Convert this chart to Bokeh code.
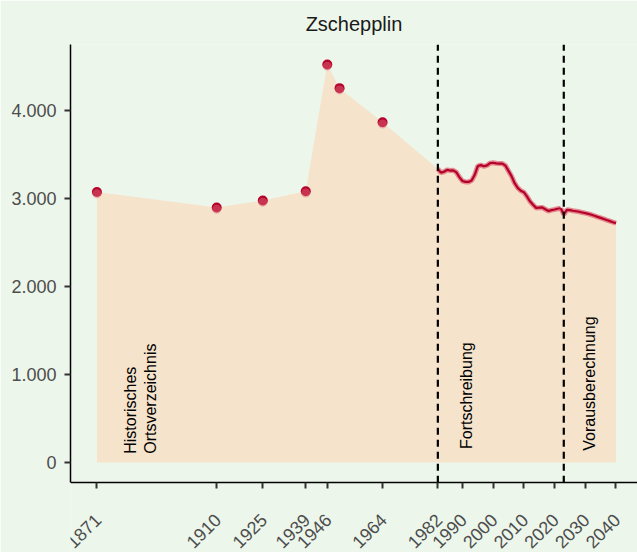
import math
from bokeh.plotting import figure
from bokeh.models import FixedTicker, ColumnDataSource
from bokeh.core.properties import value
from bokeh.embed import file_html
from bokeh.resources import INLINE

# --- data ---
title_text = "Zschepplin"

hist_years = [1871, 1910, 1925, 1939, 1946, 1950, 1964]
hist_vals = [3071, 2895, 2974, 3079, 4518, 4249, 3862]

fort_years = list(range(1982, 2023))
fort_vals = [3332, 3290, 3300, 3322, 3314, 3316, 3295, 3240, 3195, 3185,
             3185, 3200, 3265, 3365, 3375, 3362, 3372, 3398, 3402, 3396,
             3393, 3393, 3370, 3310, 3250, 3170, 3117, 3085, 3068, 3020,
             2965, 2925, 2890, 2893, 2895, 2875, 2855, 2865, 2872, 2880,
             2885]

proj_years = list(range(2022, 2041))
proj_vals = [2885, 2815, 2868, 2865, 2858, 2852, 2846, 2838, 2830, 2822,
             2812, 2800, 2788, 2777, 2765, 2752, 2740, 2728, 2717]

x_ticks = [1871, 1910, 1925, 1939, 1946, 1964, 1982, 1990, 2000, 2010,
           2020, 2030, 2040]
x_tick_labels = [str(t) for t in x_ticks]
y_ticks = [0, 1000, 2000, 3000, 4000]
y_tick_labels = ["0", "1.000", "2.000", "3.000", "4.000"]

phase_breaks = [1982, 2023]

label_texts = ["Historisches\nOrtsverzeichnis", "Fortschreibung", "Vorausberechnung"]
label_x = [1885.2, 1991.4, 2031.3]
label_y = [100, 154, 135]

# --- styling ---
BG = "#ecf6eb"
AREA = "#f5e3cc"
DARK = "#b5002a"
LIGHT = "#e0707c"
X_START, X_END = 1862.4, 2047.0
Y_START, Y_END = -1020, 4744
X_AXIS_Y = -228   # data level where the x axis sits

area_years = hist_years + fort_years + proj_years[1:]
area_vals = hist_vals + fort_vals + proj_vals[1:]

p = figure(width=637, height=552, output_backend="svg", toolbar_location=None,
           x_range=(X_START, X_END), y_range=(Y_START, Y_END),
           min_border_left=70, min_border_right=0, min_border_bottom=0,
           min_border_top=43)
p.background_fill_color = BG
p.border_fill_color = BG
p.outline_line_color = None
p.xgrid.grid_line_color = None
p.ygrid.grid_line_color = None

p.title.text = title_text
p.title.align = "center"
p.title.text_font = "Liberation Sans"
p.title.text_font_size = "20px"
p.title.text_font_style = "normal"
p.title.text_color = "#1a1a1a"
p.title.offset = 2
p.title.standoff = 20

p.varea(x=area_years, y1=[0] * len(area_years), y2=area_vals, fill_color=AREA)

for yrs, vals in ((fort_years, fort_vals), (proj_years, proj_vals)):
    p.line(yrs, vals, line_color=LIGHT, line_width=5, line_alpha=0.8)
    p.line(yrs, vals, line_color=DARK, line_width=2.2)

p.scatter(hist_years, hist_vals, size=10, fill_color=DARK, line_color=None)
p.scatter(hist_years, [v - 20 for v in hist_vals], size=9, fill_color=LIGHT,
          fill_alpha=0.45, line_color=None)

n = len(phase_breaks)
p.segment(x0=phase_breaks, y0=[X_AXIS_Y] * n, x1=phase_breaks, y1=[Y_END] * n,
          line_color="black", line_width=2.2, line_dash="7 5")

src = ColumnDataSource(dict(x=label_x, y=label_y, t=label_texts))
p.text(x="x", y="y", text="t", source=src, angle=math.pi / 2,
       text_align="left", text_baseline="middle",
       text_font=value("Liberation Sans"), text_font_size="16px",
       text_color="black", text_line_height=1.2)

for ax in (p.xaxis[0], p.yaxis[0]):
    ax.axis_line_color = "black"
    ax.axis_line_width = 1.5
    ax.major_tick_line_color = "#333333"
    ax.major_tick_line_width = 2
    ax.major_tick_out = 6
    ax.major_tick_in = 0
    ax.minor_tick_line_color = None
    ax.major_label_text_font = "Liberation Sans"
    ax.major_label_text_font_size = "18px"
    ax.major_label_text_color = "#4d4d4d"

xa = p.xaxis[0]
xa.ticker = FixedTicker(ticks=x_ticks)
xa.fixed_location = X_AXIS_Y
xa.major_label_overrides = {t: "" for t in x_ticks}

ya = p.yaxis[0]
ya.ticker = FixedTicker(ticks=y_ticks)
ya.bounds = (X_AXIS_Y, Y_END)
ya.major_label_overrides = {t: l for t, l in zip(y_ticks, y_tick_labels)}
ya.major_label_standoff = 8

# rotated x tick labels under the axis, right end at the tick
tsrc = ColumnDataSource(dict(x=x_ticks, y=[X_AXIS_Y] * len(x_ticks), t=x_tick_labels))
p.text(x="x", y="y", text="t", source=tsrc, angle=math.pi / 4,
       x_offset=1, y_offset=34, text_align="right", text_baseline="middle",
       text_font=value("Liberation Sans"), text_font_size="18px",
       text_color="#4d4d4d")

html = file_html(p, INLINE)
html = html.replace("<body>", '<body style="background:%s;">' % BG, 1)
open("out.html", "w").write(html)
